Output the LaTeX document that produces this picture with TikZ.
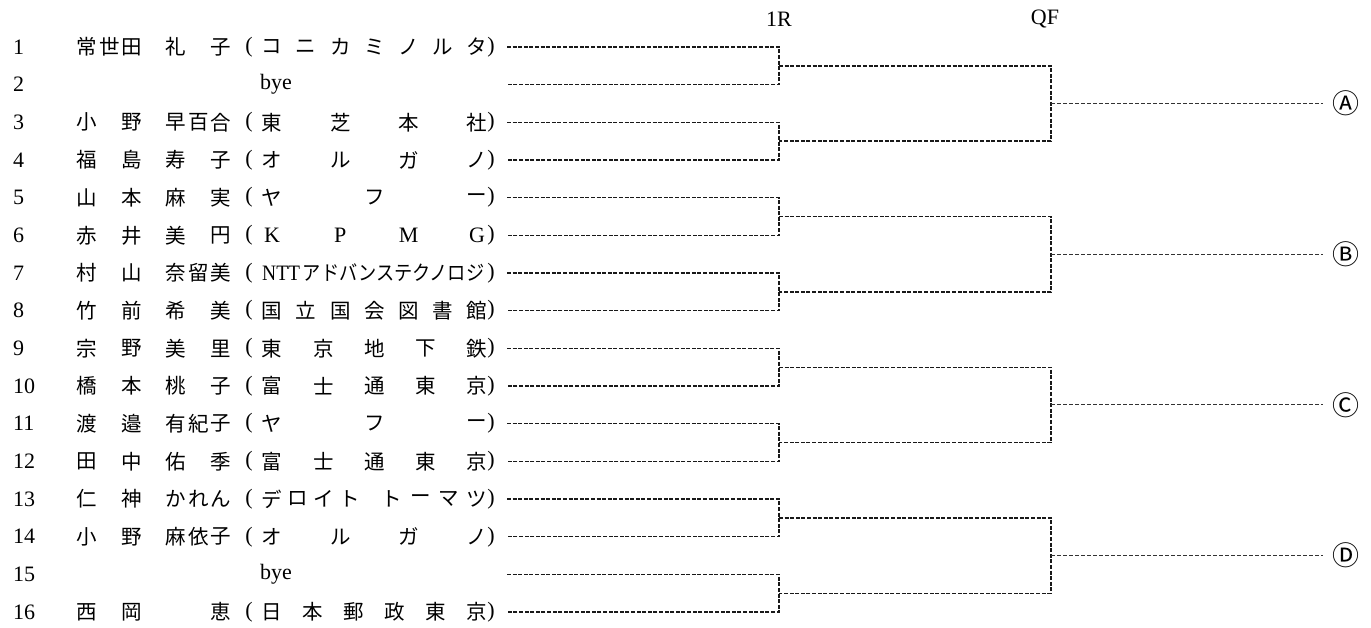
\documentclass[tikz,border=0pt]{standalone}
\usepackage{fontspec}
\usepackage{graphicx}
\setmainfont{Liberation Serif}
\newfontfamily\jp{Noto Sans CJK JP}
\newcommand\rowy[1]{47+(#1-1)*37.67}
% spread a list of characters over a field: #1 prefix, #2 row, #3 left edge, #4 span, #5 count, #6 list
\newcommand\spreadchars[6]{%
  \foreach \c [count=\k from 0] in {#6} {%
    \pgfmathsetmacro\xx{#3+10+(#5>1)*\k*#4/max(#5-1,1)+(#5==1)*#4}%
    \node[jpc] (#1-#2-\k) at (\xx,{\rowy{#2}}) {\c};
  }}
\newcommand\entry[8]{% #1 row, #2 n fam, #3 fam, #4 n given, #5 given, #6 n org, #7 org, #8 unused
  \spreadchars{fam}{#1}{77}{45}{#2}{#3}
  \spreadchars{giv}{#1}{166}{45}{#4}{#5}
  \node[txt] (lp#1) at (249,{\rowy{#1}}) {(};
  \spreadchars{org}{#1}{262}{205}{#6}{#7}
  \node[txt] (rp#1) at (491,{\rowy{#1}}) {)};
}
\begin{document}
\begin{tikzpicture}[x=1pt,y=-1pt,
  txt/.style={inner sep=0pt, font=\fontsize{22}{24}\selectfont},
  jpc/.style={inner sep=0pt, font=\jp\fontsize{20.5}{24}\selectfont},
  circ/.style={inner sep=0pt, font=\jp\fontsize{27}{28}\selectfont},
  br/.style={draw=black!90, line width=1.35pt, dash pattern=on 4pt off 1.6pt},
  fin/.style={draw=black!80, line width=0.9pt, dash pattern=on 4pt off 2pt}]
\useasboundingbox (0,0) rectangle (1371,628);

% headers
\node[txt] (h1) at (779,19) {1R};
\node[txt] (h2) at (1045,19) {QF};

% seed numbers
\foreach \i in {1,...,16} {
  \node[txt, anchor=west] (num\i) at (13,{\rowy{\i}}) {\i};
}

% entries
\entry{1}{3}{常,世,田}{2}{礼,子}{7}{コ,ニ,カ,ミ,ノ,ル,タ}{}
\node[txt] (bye2) at (276,{\rowy{2}}) {bye};
\entry{3}{2}{小,野}{3}{早,百,合}{4}{東,芝,本,社}{}
\entry{4}{2}{福,島}{2}{寿,子}{4}{オ,ル,ガ,ノ}{}
\entry{5}{2}{山,本}{2}{麻,実}{3}{ヤ,フ,ー}{}
\entry{6}{2}{赤,井}{2}{美,円}{4}{\rmfamily\fontsize{22}{24}\selectfont K,\rmfamily\fontsize{22}{24}\selectfont P,\rmfamily\fontsize{22}{24}\selectfont M,\rmfamily\fontsize{22}{24}\selectfont G}{}
\spreadchars{fam}{7}{77}{45}{2}{村,山}
\spreadchars{giv}{7}{166}{45}{3}{奈,留,美}
\node[txt] (lp7) at (249,{\rowy{7}}) {(};
\node[jpc, anchor=west] (org7) at (262,{\rowy{7}}) {\resizebox{222pt}{\height}{\rmfamily\fontsize{22}{24}\selectfont NTT\hspace{3pt}\jp\fontsize{20.5}{24}\selectfont アドバンステクノロジ}};
\node[txt] (rp7) at (491,{\rowy{7}}) {)};
\entry{8}{2}{竹,前}{2}{希,美}{7}{国,立,国,会,図,書,館}{}
\entry{9}{2}{宗,野}{2}{美,里}{5}{東,京,地,下,鉄}{}
\entry{10}{2}{橋,本}{2}{桃,子}{5}{富,士,通,東,京}{}
\entry{11}{2}{渡,邉}{3}{有,紀,子}{3}{ヤ,フ,ー}{}
\entry{12}{2}{田,中}{2}{佑,季}{5}{富,士,通,東,京}{}
% row 13: two word groups
\spreadchars{fam}{13}{77}{45}{2}{仁,神}
\spreadchars{giv}{13}{166}{45}{3}{か,れ,ん}
\node[txt] (lp13) at (249,{\rowy{13}}) {(};
\spreadchars{orga}{13}{262}{78}{4}{デ,ロ,イ,ト}
\spreadchars{orgb}{13}{382}{85}{4}{ト,ー,マ,ツ}
\node[txt] (rp13) at (491,{\rowy{13}}) {)};
\entry{14}{2}{小,野}{3}{麻,依,子}{4}{オ,ル,ガ,ノ}{}
\node[txt] (bye15) at (276,{\rowy{15}}) {bye};
\entry{16}{2}{西,岡}{1}{恵}{6}{日,本,郵,政,東,京}{}

% line end points
\foreach \i in {1,...,16} {
  \coordinate (s\i) at (507,{\rowy{\i}});
  \coordinate (e\i) at (779,{\rowy{\i}});
}
\foreach \k in {1,...,8} {
  \coordinate (p\k) at (779,{\rowy{2*\k-0.5}});
  \coordinate (q\k) at (1051,{\rowy{2*\k-0.5}});
}
\foreach \m/\lab in {1/Ⓐ,2/Ⓑ,3/Ⓒ,4/Ⓓ} {
  \coordinate (r\m) at (1051,{\rowy{4*\m-1.5}});
  \coordinate (t\m) at (1323,{\rowy{4*\m-1.5}});
  \node[circ] (L\m) at (1346,{\rowy{4*\m-1.5}}) {\lab};
}

% first round brackets
\foreach \k in {1,...,8} {
  \pgfmathtruncatemacro\a{2*\k-1}
  \pgfmathtruncatemacro\b{2*\k}
  \draw[br] (s\a) -- (e\a) -- (e\b) -- (s\b);
}
% QF brackets
\foreach \m in {1,...,4} {
  \pgfmathtruncatemacro\a{2*\m-1}
  \pgfmathtruncatemacro\b{2*\m}
  \draw[br] (p\a) -- (q\a) -- (q\b) -- (p\b);
  \draw[fin] (r\m) -- (t\m);
}
\end{tikzpicture}
\end{document}
